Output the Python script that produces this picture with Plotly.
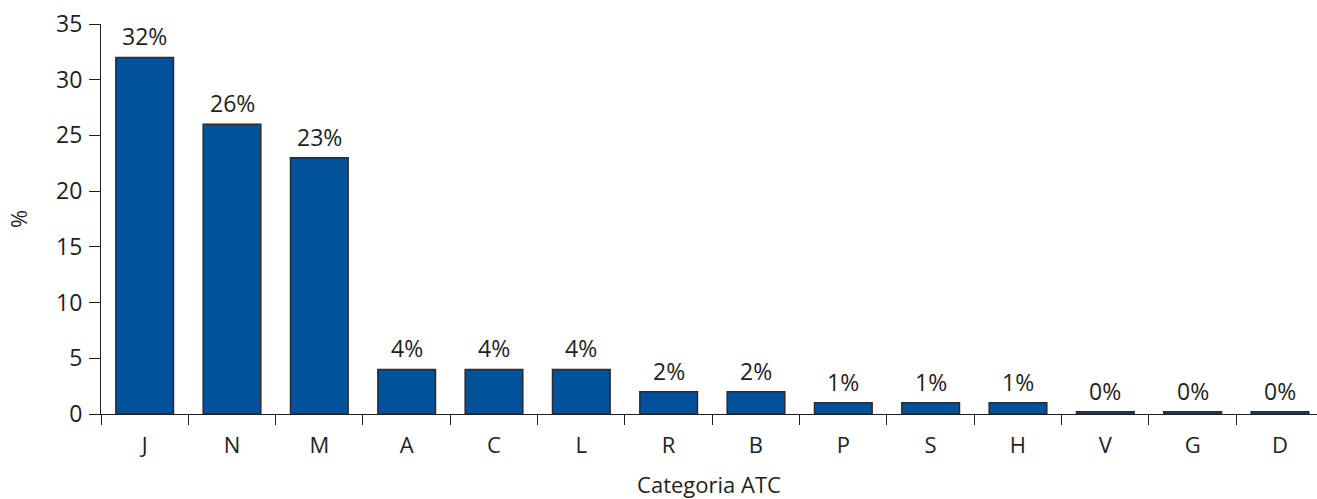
import plotly.graph_objects as go

# ATC categories and share of prescriptions (%)
categories = ["J", "N", "M", "A", "C", "L", "R", "B", "P", "S", "H", "V", "G", "D"]
values = [32, 26, 23, 4, 4, 4, 2, 2, 1, 1, 1, 0.2, 0.2, 0.2]
labels = [f"{round(v)}%" for v in values]

y_ticks = [0, 5, 10, 15, 20, 25, 30, 35]

ink = "#231f20"
font_family = "Open Sans, Noto Sans, sans-serif"

fig = go.Figure(
    go.Bar(
        x=categories,
        y=values,
        marker=dict(color="#02519b", line=dict(color="#2b2b2b", width=1.5)),
        cliponaxis=False,
    )
)

# percentage labels sitting above each bar
for cat, val, lab in zip(categories, values, labels):
    fig.add_annotation(
        x=cat,
        y=val,
        text=lab,
        showarrow=False,
        yanchor="bottom",
        yshift=3,
        font=dict(size=23, color=ink, family=font_family),
    )

fig.update_layout(
    width=1317,
    height=499,
    margin=dict(l=101, r=0, t=24, b=85),
    paper_bgcolor="white",
    plot_bgcolor="white",
    bargap=0.34,
    showlegend=False,
    font=dict(family=font_family, size=22, color=ink),
)

fig.update_xaxes(
    range=[-0.5, 13.424],
    tickson="boundaries",
    ticks="outside",
    ticklen=10,
    tickwidth=1.2,
    tickcolor=ink,
    showline=True,
    linecolor=ink,
    linewidth=1.2,
    showgrid=False,
    zeroline=False,
    tickfont=dict(size=22),
    ticklabelstandoff=11,
    title=dict(text="Categoria ATC", font=dict(size=22), standoff=26),
)

fig.update_yaxes(
    range=[0, 35],
    tickvals=y_ticks,
    ticks="outside",
    ticklen=11,
    tickwidth=1.2,
    tickcolor=ink,
    showline=True,
    linecolor=ink,
    linewidth=1.2,
    showgrid=False,
    zeroline=False,
    tickfont=dict(size=23),
    ticklabelstandoff=2,
    title=dict(text="%", font=dict(size=22), standoff=22),
)

fig.write_html("out.html")
